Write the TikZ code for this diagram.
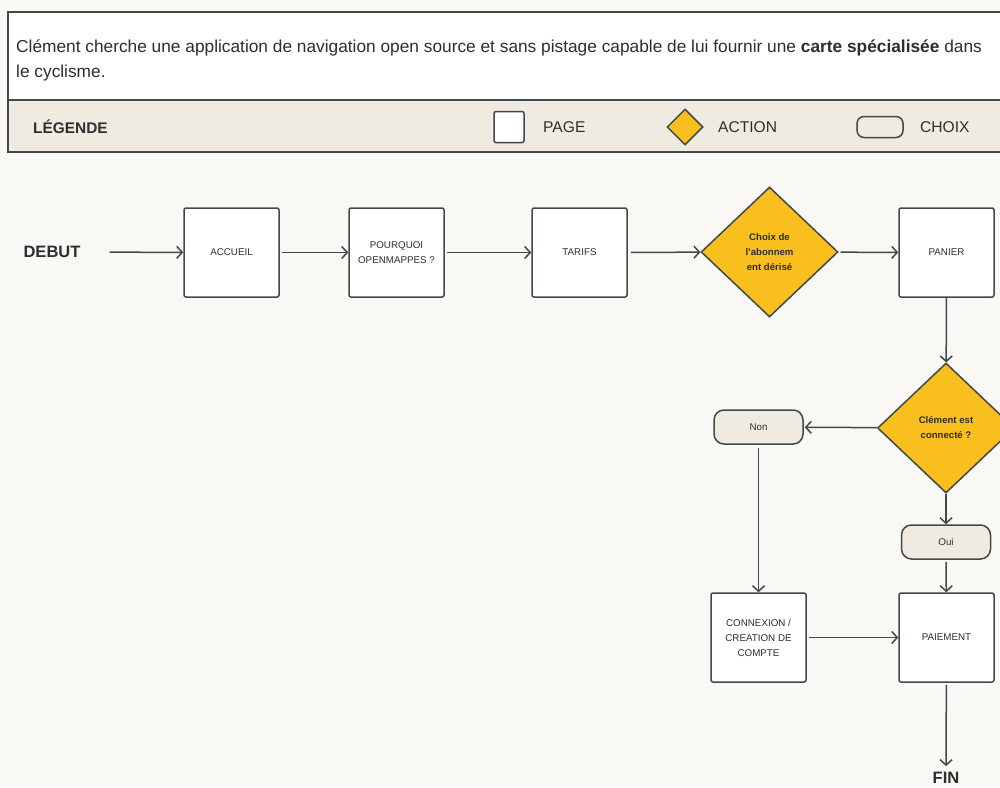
\documentclass[tikz,border=0pt]{standalone}
\usepackage{fontspec}
\setmainfont{Liberation Sans}
\usetikzlibrary{shapes.geometric,arrows.meta}
\definecolor{bg}{HTML}{F9F8F4}
\definecolor{ln}{HTML}{3F4947}
\definecolor{beige}{HTML}{EFEBE1}
\definecolor{ylw}{HTML}{F8BF1E}
\definecolor{txt}{HTML}{2E2E2E}
\tikzset{
  arr/.style={draw=ln, line width=1.5pt, -{Straight Barb[length=5.5pt,width=12pt,line width=1.5pt]}},
  pagebox/.style={draw=ln, fill=white, line width=1.5pt, rounded corners=2pt, minimum width=95pt, minimum height=89pt, align=center, font=\fontsize{9.8}{15}\selectfont, text=txt},
  actbox/.style={diamond, draw=ln, fill=ylw, line width=1.5pt, minimum width=137pt, minimum height=130pt, inner sep=0pt, align=center, font=\fontsize{9.6}{15}\selectfont\bfseries, text=txt},
  choixbox/.style={draw=ln, fill=beige, line width=1.5pt, rounded corners=10pt, minimum width=89pt, minimum height=34pt, font=\fontsize{9.8}{11}\selectfont, text=txt},
  big/.style={font=\fontsize{16.5}{19}\selectfont\bfseries, text=txt, inner sep=0pt},
  legtxt/.style={font=\fontsize{15.6}{18}\selectfont, text=txt, anchor=west, inner sep=0pt},
  introtxt/.style={anchor=base west, inner sep=0pt, font=\fontsize{17.3}{20}\selectfont, text=txt}
}
\begin{document}
\begin{tikzpicture}[x=1pt,y=-1pt]
\clip (0,0) rectangle (1000,787);
\fill[bg] (0,0) rectangle (1000,787);
% header
\draw[ln, line width=1.5pt, fill=white] (8,12) rectangle (1012,100);
\draw[ln, line width=1.5pt, fill=beige] (8,100) rectangle (1012,152);
\node[introtxt] (intro1) at (16,52) {Clément cherche une application de navigation open source et sans pistage capable de lui fournir une \textbf{carte spécialisée} dans};
\node[introtxt] (intro2) at (16,77) {le cyclisme.};
% legend
\node[legtxt, font=\fontsize{15.4}{18}\selectfont\bfseries] (leg) at (33,127) {LÉGENDE};
\node[draw=ln, fill=white, line width=1.5pt, rounded corners=2pt, minimum width=30pt, minimum height=31pt, inner sep=0pt] (lpage) at (509,127) {};
\node[legtxt] (lpaget) at (543,127) {PAGE};
\node[diamond, draw=ln, fill=ylw, line width=1.5pt, minimum width=36pt, minimum height=36pt, inner sep=0pt] (lact) at (685,127) {};
\node[legtxt] (lactt) at (718,127) {ACTION};
\node[draw=ln, fill=beige, line width=1.5pt, rounded corners=7pt, minimum width=46pt, minimum height=21pt, inner sep=0pt] (lch) at (880,127) {};
\node[legtxt] (lcht) at (920,127) {CHOIX};
% flow
\node[big] (debut) at (52,252) {DEBUT};
\node[pagebox] (accueil) at (231.5,252.5) {ACCUEIL};
\node[pagebox] (pourquoi) at (396.5,252.5) {POURQUOI\\OPENMAPPES ?};
\node[pagebox] (tarifs) at (579.5,252.5) {TARIFS};
\node[actbox] (choix) at (769.5,252) {Choix de\\l’abonnem\\ent dérisé};
\node[pagebox] (panier) at (946.5,252.5) {PANIER};
\node[actbox] (connecte) at (946,428) {Clément est\\connecté ?};
\node[choixbox] (non) at (758.5,427) {Non};
\node[choixbox] (oui) at (946,542) {Oui};
\node[pagebox] (connexion) at (758.5,637.5) {CONNEXION /\\CREATION DE\\COMPTE};
\node[pagebox] (paiement) at (946.5,637.5) {PAIEMENT};
\node[big] (fin) at (946,778) {FIN};
\draw[arr, shorten <=29pt] (debut) -- (accueil);
\draw[arr, shorten <=2pt] (accueil) -- (pourquoi);
\draw[arr, shorten <=2pt] (pourquoi) -- (tarifs);
\draw[arr, shorten <=3pt] (tarifs) -- (choix);
\draw[arr, shorten <=2pt] (choix) -- (panier);
\draw[arr] (panier) -- (connecte);
\draw[arr, shorten >=1pt] (connecte) -- (non);
\draw[arr, shorten <=3pt] (non) -- (connexion);
\draw[arr] (connecte) -- (oui);
\draw[arr, shorten <=2pt] (oui) -- (paiement);
\draw[arr, shorten <=2pt] (connexion) -- (paiement);
\draw[arr, shorten <=2pt, shorten >=6pt] (paiement) -- (fin);
\end{tikzpicture}
\end{document}
